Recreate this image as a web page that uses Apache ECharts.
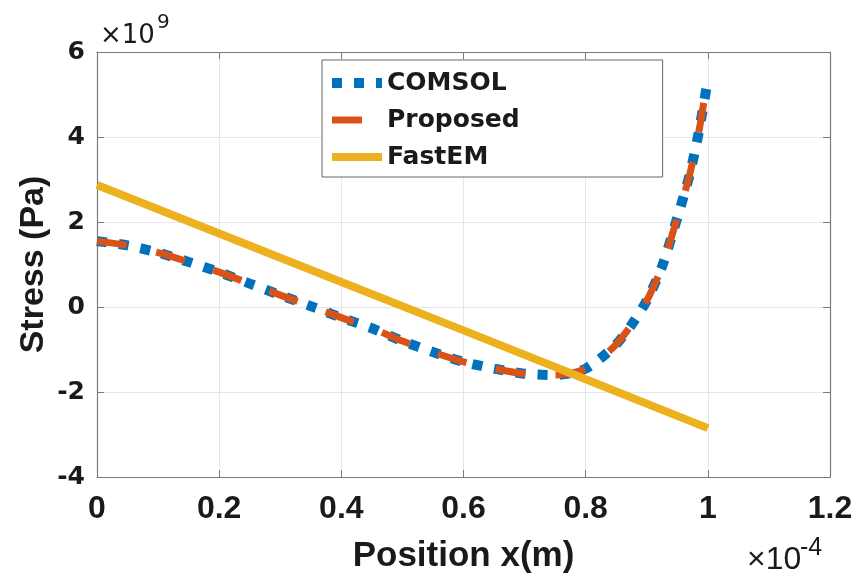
<!DOCTYPE html>
<html><head><meta charset="utf-8">
<script src="https://cdn.jsdelivr.net/npm/echarts@6/dist/echarts.min.js"></script>
<style>html,body{margin:0;padding:0;background:#fff}#c{width:859px;height:580px}</style>
</head><body><div id="c"></div>
<script>
// x in units of 1e-4 m, y in units of 1e9 Pa
const comsolX = [0,0.05,0.1,0.15,0.2,0.25,0.3,0.35,0.4,0.45,0.5,0.55,0.6,0.65,0.7,0.75,0.775,0.8,0.825,0.85,0.875,0.9,0.925,0.95,0.97,0.985,1.0];
const comsolY = [1.55,1.45,1.28,1.06,0.82,0.55,0.28,0.02,-0.25,-0.5,-0.8,-1.06,-1.29,-1.45,-1.57,-1.6,-1.56,-1.45,-1.2,-0.88,-0.42,0.15,0.95,2.1,3.1,4.1,5.35];
const proposedX = [0,0.05,0.1,0.15,0.2,0.25,0.3,0.35,0.4,0.45,0.5,0.55,0.6,0.65,0.7,0.75,0.775,0.8,0.825,0.85,0.875,0.9,0.925,0.95,0.97,0.985,1.0];
const proposedY = [1.55,1.45,1.28,1.06,0.82,0.55,0.28,0.02,-0.25,-0.5,-0.8,-1.06,-1.29,-1.45,-1.57,-1.6,-1.56,-1.45,-1.2,-0.88,-0.42,0.15,0.95,2.1,3.1,4.1,5.4];
const fastX = [0,0.2,0.4,0.6,0.8,1.0];
const fastY = [2.87,1.73,0.59,-0.55,-1.7,-2.85];
const seriesNames = ['COMSOL','Proposed','FastEM'];
const xTickLabels = ['0','0.2','0.4','0.6','0.8','1','1.2'];
const yTickLabels = ['-4','-2','0','2','4','6'];
const xTitle = 'Position x(m)';
const yTitle = 'Stress (Pa)';

const pairs = (xs, ys) => xs.map((x, i) => [x, ys[i]]);
const chart = echarts.init(document.getElementById('c'), null, {renderer: 'canvas'});
const frame = '#7a7a7a';
const grid = '#e6e6e6';
const txt = '#1a1a1a';
const xFont = 'Liberation Sans, Arial, sans-serif';
const yFont = 'DejaVu Sans, sans-serif';

chart.setOption({
  animation: false,
  backgroundColor: '#fff',
  grid: {left: 97, right: 29, top: 52, bottom: 103},
  xAxis: [{
    type: 'value', min: 0, max: 1.2, interval: 0.2, position: 'bottom',
    name: xTitle, nameLocation: 'middle', nameGap: 62,
    nameTextStyle: {fontFamily: xFont, fontWeight: 'bold', fontSize: 35, color: txt},
    axisLine: {show: true, onZero: false, lineStyle: {color: frame, width: 1.2}},
    axisTick: {show: true, inside: true, length: 7, lineStyle: {color: frame}},
    axisLabel: {margin: 16, fontFamily: xFont, fontWeight: 'bold', fontSize: 32, color: txt,
      formatter: v => xTickLabels[Math.round(v / 0.2)]},
    splitLine: {show: true, lineStyle: {color: grid, width: 1}}
  }, {
    type: 'value', min: 0, max: 1.2, interval: 0.2, position: 'top',
    axisLine: {show: true, onZero: false, lineStyle: {color: frame, width: 1.2}},
    axisTick: {show: true, inside: true, length: 7, lineStyle: {color: frame}},
    axisLabel: {show: false}, splitLine: {show: false}
  }],
  yAxis: [{
    type: 'value', min: -4, max: 6, interval: 2, position: 'left',
    name: yTitle, nameLocation: 'middle', nameGap: 46, nameMoveOverlap: false,
    nameTextStyle: {fontFamily: xFont, fontWeight: 'bold', fontSize: 34, color: txt},
    axisLine: {show: true, onZero: false, lineStyle: {color: frame, width: 1.2}},
    axisTick: {show: true, inside: true, length: 7, lineStyle: {color: frame}},
    axisLabel: {margin: 12, fontFamily: yFont, fontWeight: 'bold', fontSize: 25, color: txt,
      formatter: v => yTickLabels[Math.round((v + 4) / 2)]},
    splitLine: {show: true, lineStyle: {color: grid, width: 1}}
  }, {
    type: 'value', min: -4, max: 6, interval: 2, position: 'right',
    axisLine: {show: true, onZero: false, lineStyle: {color: frame, width: 1.2}},
    axisTick: {show: true, inside: true, length: 7, lineStyle: {color: frame}},
    axisLabel: {show: false}, splitLine: {show: false}
  }],
  legend: {
    left: 322, top: 60, orient: 'vertical',
    padding: [9, 143, 6, 5], itemGap: 9,
    itemWidth: 50, itemHeight: 14,
    backgroundColor: '#fff', borderColor: '#666', borderWidth: 1,
    textStyle: {fontFamily: yFont, fontWeight: 'bold', fontSize: 25, color: txt, lineHeight: 28},
    itemStyle: {opacity: 0},
    lineStyle: {width: 'inherit', type: 'inherit'},
    data: seriesNames
  },
  series: [{
    name: seriesNames[0], type: 'line', symbol: 'none', smooth: 0.25,
    data: pairs(comsolX, comsolY),
    lineStyle: {color: '#0072BD', width: 10, type: [10, 12], cap: 'butt'},
    itemStyle: {color: '#0072BD'}
  }, {
    name: seriesNames[1], type: 'line', symbol: 'none', smooth: 0.25,
    data: pairs(proposedX, proposedY),
    lineStyle: {color: '#D95319', width: 7, type: [30, 30], cap: 'butt'},
    itemStyle: {color: '#D95319'}
  }, {
    name: seriesNames[2], type: 'line', symbol: 'none',
    data: pairs(fastX, fastY),
    lineStyle: {color: '#EDB120', width: 8},
    itemStyle: {color: '#EDB120'}
  }],
  graphic: [
    {type: 'text', left: 100, top: 23, style: {text: '×10', fontFamily: yFont, fontSize: 26, fill: txt}},
    {type: 'text', left: 157, top: 13, style: {text: '9', fontFamily: yFont, fontSize: 20, fill: txt}},
    {type: 'text', left: 747, top: 544, style: {text: '×10', fontFamily: xFont, fontSize: 32, fill: txt}},
    {type: 'text', left: 800, top: 536, style: {text: '-4', fontFamily: xFont, fontSize: 25, fill: txt}}
  ]
});
</script></body></html>
